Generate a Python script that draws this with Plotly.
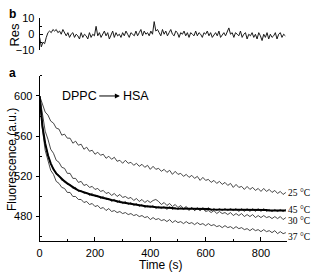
import plotly.graph_objects as go

# ---------------- data ----------------
time_s = list(range(0, 900, 10))          # 0..890 s, 10 s sampling
res_time_s = list(range(0, 890, 6))       # residual sampling

f25 = [600,593,584,581,575,573,568,567,561,562,
       558,558,553,555,551,552,547,549,545,546,
       542,544,541,542,538,540,537,539,535,536,
       533,536,533,534,531,533,530,532,529,531,
       527,530,527,528,525,527,524,526,522,525,
       522,523,520,522,519,521,518,520,516,519,
       516,517,514,516,513,515,512,514,511,513,
       509,512,509,510,507,510,507,509,506,508,
       505,508,505,507,504,506,503,505,502,504]

f30 = [600,581,565,557,547,543,536,534,529,528,
       523,523,518,518,514,515,511,512,509,510,
       507,508,505,506,503,504,501,503,500,502,
       499,500,498,499,496,498,495,497,494,496,
       494,496,497,495,492,494,491,493,490,492,
       489,491,488,490,487,489,486,488,486,488,
       485,486,484,486,483,485,483,484,482,484,
       481,483,481,483,480,482,480,482,479,481,
       479,481,479,480,478,480,478,480,477,479]

f37 = [598,567,546,536,526,522,515,513,509,508,
       504,504,500,500,497,497,494,495,492,493,
       490,491,488,489,486,488,485,486,484,485,
       483,484,482,483,481,482,480,481,479,480,
       477,479,477,478,476,477,475,477,474,476,
       474,475,473,475,473,474,472,474,472,473,
       471,473,471,472,470,471,469,471,469,470,
       468,470,468,469,467,468,466,468,466,467,
       465,467,465,466,464,466,463,465,463,464]

f45 = [600,571,552,542,532,528,522,521,516,516,
       512,512,508,509,505,506,503,504,501,503,
       500,501,498,500,497,498,495,497,494,496,
       493,495,492,494,491,493,490,492,489,491,
       489,491,488,490,488,490,487,490,487,489,
       487,489,487,489,486,489,486,489,486,489,
       486,489,486,488,486,488,486,488,486,488,
       486,488,485,488,485,488,485,488,485,488,
       485,488,485,487,485,487,485,487,485,487]

f45_fit = [600,570,553,541,533,527,523,520,517,515,
           513,511,509,507.5,506,505,504,503,502,501.5,
           501,500,499,498.5,498,497,496.5,496,495,494.5,
           494,493.5,493,492.5,492,491.5,491,491,490.5,490,
           490,489.5,489.5,489,489,489,488.5,488.5,488.5,488,
           488,488,488,487.5,487.5,487.5,487.5,487.5,487.5,487.5,
           487.5,487.5,487,487,487,487,487,487,487,487,
           487,487,486.5,486.5,486.5,486.5,486.5,486.5,486.5,486.5,
           486.5,486.5,486.5,486,486,486,486,486,486,486]

residual = [-2,-8,-5,-6,-2,1,2,1,3,2,
            3,1,2,0,3,1,-1,1,-2,0,
            1,-2,0,-1,-3,1,-2,0,-1,-3,
            1,-2,0,-1,5,-1,1,-2,0,2,
            -1,1,-3,0,2,-2,1,-1,0,-2,
            1,-1,2,0,-2,1,0,-1,2,-1,
            1,3,-1,2,0,1,-1,2,0,8,
            2,3,1,-1,3,0,2,-1,1,3,
            0,-1,2,1,-2,1,0,2,-1,1,
            -2,1,0,-1,2,-1,1,0,-2,1,
            0,2,-1,1,-2,0,1,-1,2,-2,
            0,1,-1,2,4,0,1,-2,1,0,
            -1,2,-2,0,1,-3,0,-1,1,-2,
            0,-3,1,-1,-4,0,-2,1,-3,0,
            -2,-1,1,-3,0,1,-2,0,-1]

temp_labels = ["25 °C", "45 °C", "30 °C", "37 °C"]
temp_label_y = [503, 487, 476, 460]

x_ticks = [0, 200, 400, 600, 800]
y_ticks = [480, 520, 560, 600]
res_ticks = [-10, 0, 10]

# ---------------- figure ----------------
W, H = 312, 280
XDOM = [37 / W, 287 / W]
XR = [0, 895]
YDOM = [(H - 245.2) / H, (H - 73) / H]
YR = [456, 620]
RDOM = [(H - 46) / H, (H - 13) / H]
RR = [-10, 10]

FONT = "Liberation Sans, Arial, sans-serif"
SERIF = "Liberation Serif, Times New Roman, serif"

fig = go.Figure()

fig.add_trace(go.Scatter(x=res_time_s, y=residual, mode="lines",
                         line=dict(color="#1a1a1a", width=1), xaxis="x", yaxis="y"))

for ys in (f25, f30, f37, f45):
    fig.add_trace(go.Scatter(x=time_s, y=ys, mode="lines",
                             line=dict(color="#333", width=0.9), xaxis="x2", yaxis="y2"))
fig.add_trace(go.Scatter(x=time_s, y=f45_fit, mode="lines",
                         line=dict(color="black", width=2), xaxis="x2", yaxis="y2"))

axis_common = dict(showgrid=False, zeroline=False, showline=True, linecolor="black",
                   linewidth=1, tickcolor="black", tickfont=dict(family=FONT, size=11, color="black"))

fig.update_layout(
    width=W, height=H, margin=dict(l=0, r=0, t=0, b=0),
    paper_bgcolor="white", plot_bgcolor="white", showlegend=False,
    xaxis=dict(domain=XDOM, range=XR, visible=False, anchor="y"),
    yaxis=dict(domain=RDOM, range=RR, anchor="x", tickvals=res_ticks, ticks="inside",
               ticklen=3, ticklabelstandoff=2,
               minor=dict(tickvals=[-5, 5], ticks="inside", ticklen=2, tickcolor="black"),
               **axis_common),
    xaxis2=dict(domain=XDOM, range=XR, anchor="y2", tickvals=x_ticks, ticks="inside",
                ticklen=4, ticklabelstandoff=2,
                minor=dict(tickvals=[100, 300, 500, 700], ticks="inside", ticklen=2, tickcolor="black"),
                **axis_common),
    yaxis2=dict(domain=YDOM, range=YR, anchor="x2", tickvals=y_ticks, ticks="outside",
                ticklen=3, ticklabelstandoff=1,
                minor=dict(tickvals=[460, 500, 540, 580, 620], ticks="inside", ticklen=2, tickcolor="black"),
                **axis_common),
    yaxis3=dict(domain=YDOM, range=YR, overlaying="y2", anchor="x2", side="left",
                tickvals=y_ticks, ticks="inside", ticklen=3, showticklabels=False,
                showgrid=False, zeroline=False, showline=False, tickcolor="black"),
)

ann = []
ann.append(dict(text="<b>b</b>", x=4 / W, y=1 - 8 / H, xref="paper", yref="paper",
                showarrow=False, xanchor="left", yanchor="middle",
                font=dict(family=FONT, size=12, color="black")))
ann.append(dict(text="<b>a</b>", x=4 / W, y=1 - 70 / H, xref="paper", yref="paper",
                showarrow=False, xanchor="left", yanchor="middle",
                font=dict(family=FONT, size=12, color="black")))
ann.append(dict(text="Res", x=12 / W, y=1 - 30 / H, xref="paper", yref="paper",
                showarrow=False, textangle=-90, xanchor="center", yanchor="middle",
                font=dict(family=FONT, size=13, color="black")))
ann.append(dict(text="Fluorescence (a.u.)", x=9 / W, y=1 - 160 / H, xref="paper", yref="paper",
                showarrow=False, textangle=-90, xanchor="center", yanchor="middle",
                font=dict(family=FONT, size=12, color="black")))
ann.append(dict(text="Time (s)", x=160 / W, y=1 - 271 / H, xref="paper", yref="paper",
                showarrow=False, xanchor="center", yanchor="middle",
                font=dict(family=FONT, size=12, color="black")))
ann.append(dict(text="DPPC", x=72, y=600, xref="x2", yref="y2", showarrow=False,
                xanchor="left", yanchor="middle", font=dict(family=FONT, size=12.5, color="black")))
ann.append(dict(text="HSA", x=295, y=600, xref="x2", yref="y2", showarrow=False,
                xanchor="left", yanchor="middle", font=dict(family=FONT, size=12.5, color="black")))
ann.append(dict(text="", x=290, y=600, ax=210, ay=600, xref="x2", yref="y2",
                axref="x2", ayref="y2", showarrow=True, arrowhead=2, arrowsize=1,
                arrowwidth=1, arrowcolor="black"))
for lab, yv in zip(temp_labels, temp_label_y):
    ann.append(dict(text=lab, x=287 / W, y=yv, xref="paper", yref="y2", showarrow=False,
                    xanchor="left", yanchor="middle", borderpad=0,
                    font=dict(family=SERIF, size=9.5, color="black")))

fig.update_layout(annotations=ann)
fig.write_html("out.html")
